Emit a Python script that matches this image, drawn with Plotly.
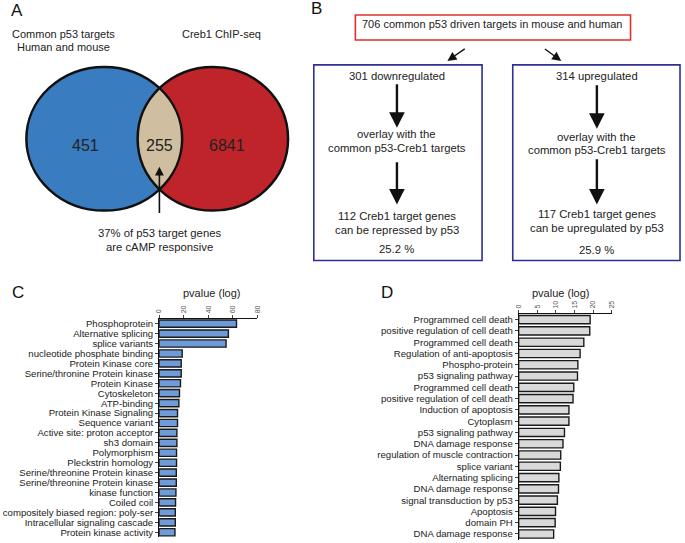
import numpy as np
import plotly.graph_objects as go

W, H = 685, 543
FONT = "Liberation Sans, Arial, sans-serif"

# ---------------- data ----------------
c_terms = ["Phosphoprotein", "Alternative splicing", "splice variants",
           "nucleotide phosphate binding", "Protein Kinase core",
           "Serine/thronine Protein kinase", "Protein Kinase", "Cytoskeleton",
           "ATP-binding", "Protein Kinase Signaling", "Sequence variant",
           "Active site: proton acceptor", "sh3 domain", "Polymorphism",
           "Pleckstrin homology", "Serine/threonine Protein kinase",
           "Serine/threonine Protein kinase", "kinase function", "Coiled coil",
           "compositely biased region: poly-ser", "Intracellular signaling cascade",
           "Protein kinase activity"]
c_values = [63.0, 56.4, 54.5, 18.8, 18.0, 18.0, 17.4, 16.6, 16.1, 15.0, 15.0,
            14.5, 14.5, 14.2, 14.2, 14.0, 14.0, 13.7, 13.4, 13.2, 13.2, 12.9]
c_ticks = [0, 20, 40, 60, 80]

d_terms = ["Programmed cell death", "positive regulation of cell death",
           "Programmed cell death", "Regulation of anti-apoptosis",
           "Phospho-protein", "p53 signaling pathway", "Programmed cell death",
           "positive regulation of cell death", "Induction of apoptosis",
           "Cytoplasm", "p53 signaling pathway", "DNA damage response",
           "regulation of muscle contraction", "splice variant",
           "Alternating splicing", "DNA damage response",
           "signal transduction by p53", "Apoptosis", "domain PH",
           "DNA damage response"]
d_values = [19.2, 19.1, 17.5, 16.5, 15.9, 15.8, 14.8, 14.6, 13.5, 13.5, 12.3,
            11.9, 11.3, 11.2, 10.8, 10.7, 10.4, 9.9, 9.8, 9.4]
d_ticks = [0, 5, 10, 15, 20, 25]

venn_labels = ["451", "255", "6841"]

# --------------- figure ----------------
fig = go.Figure()

nC = len(c_terms)
nD = len(d_terms)

fig.add_trace(go.Bar(
    x=c_values, y=list(range(nC)), orientation="h", width=0.73,
    marker=dict(color="#6f9bd8", line=dict(color="#1a1a1a", width=1.4)),
    xaxis="x", yaxis="y", showlegend=False, hoverinfo="skip"))
fig.add_trace(go.Bar(
    x=d_values, y=list(range(nD)), orientation="h", width=0.73,
    marker=dict(color="#d9d9d9", line=dict(color="#1a1a1a", width=1.4)),
    xaxis="x2", yaxis="y2", showlegend=False, hoverinfo="skip"))
# invisible trace to establish a full-page pixel axis
fig.add_trace(go.Scatter(x=[None], y=[None], xaxis="x3", yaxis="y3",
                         showlegend=False, hoverinfo="skip"))


def px_x(x):
    return x / W


def px_y(y):
    return 1 - y / H


tick_font = dict(family=FONT, size=7, color="#555")
lab_font = dict(family=FONT, size=9.6, color="#222")

c_top, c_band = 318.3, 9.95
d_top, d_band = 313.6, 11.3

fig.update_layout(
    xaxis=dict(domain=[px_x(156.7), px_x(256)], range=[0, 80], side="top",
               tickvals=c_ticks, ticks="outside", ticklen=3, tickangle=-90,
               tickfont=tick_font, showline=True, linecolor="#111", linewidth=1,
               showgrid=False, zeroline=False, anchor="y", fixedrange=True),
    yaxis=dict(domain=[px_y(c_top + c_band * nC), px_y(c_top)],
               range=[nC - 0.5, -0.5], tickvals=list(range(nC)), ticktext=c_terms,
               ticks="outside", ticklen=3, tickfont=lab_font, showline=True,
               linecolor="#111", linewidth=1, showgrid=False, zeroline=False,
               anchor="x", fixedrange=True),
    xaxis2=dict(domain=[px_x(520), px_x(614)], range=[0, 25], side="top",
                tickvals=d_ticks, ticks="outside", ticklen=3, tickangle=-90,
                tickfont=tick_font, showline=True, linecolor="#111", linewidth=1,
                showgrid=False, zeroline=False, anchor="y2", fixedrange=True),
    yaxis2=dict(domain=[px_y(d_top + d_band * nD), px_y(d_top)],
                range=[nD - 0.5, -0.5], tickvals=list(range(nD)), ticktext=d_terms,
                ticks="outside", ticklen=3, tickfont=lab_font, showline=True,
                linecolor="#111", linewidth=1, showgrid=False, zeroline=False,
                anchor="x2", fixedrange=True),
    xaxis3=dict(domain=[0, 1], range=[0, W], visible=False, anchor="y3",
                fixedrange=True),
    yaxis3=dict(domain=[0, 1], range=[H, 0], visible=False, anchor="x3",
                fixedrange=True),
)

shapes = []
ann = []

# ---------- Panel A: Venn ----------
L = dict(cx=101.3, cy=138.0, rx=78.7, ry=72.0)
R = dict(cx=211.0, cy=138.0, rx=76.0, ry=72.0)


def inside(e, x, y):
    return ((x - e["cx"]) / e["rx"]) ** 2 + ((y - e["cy"]) / e["ry"]) ** 2 <= 1.0


t = np.linspace(-np.pi, np.pi, 2001)
Lx = L["cx"] + L["rx"] * np.cos(t)
Ly = L["cy"] + L["ry"] * np.sin(t)
mL = inside(R, Lx, Ly)
t2 = np.linspace(0, 2 * np.pi, 2001)
Rx = R["cx"] + R["rx"] * np.cos(t2)
Ry = R["cy"] + R["ry"] * np.sin(t2)
mR = inside(L, Rx, Ry)
pts = list(zip(Lx[mL], Ly[mL])) + list(zip(Rx[mR], Ry[mR]))
path = "M " + " L ".join(f"{x:.2f},{y:.2f}" for x, y in pts) + " Z"

for e, col in [(L, "#3a7cc0"), (R, "#c0242b")]:
    shapes.append(dict(type="circle", xref="x3", yref="y3",
                       x0=e["cx"] - e["rx"], x1=e["cx"] + e["rx"],
                       y0=e["cy"] - e["ry"], y1=e["cy"] + e["ry"],
                       fillcolor=col, line=dict(width=0), layer="above"))
shapes.append(dict(type="path", xref="x3", yref="y3", path=path,
                   fillcolor="#cfbe9f", line=dict(width=0), layer="above"))
for e in [L, R]:
    shapes.append(dict(type="circle", xref="x3", yref="y3",
                       x0=e["cx"] - e["rx"], x1=e["cx"] + e["rx"],
                       y0=e["cy"] - e["ry"], y1=e["cy"] + e["ry"],
                       fillcolor="rgba(0,0,0,0)", line=dict(color="#111", width=2.5),
                       layer="above"))


def text(x, y, s, size=10, color="#222", xanchor="center"):
    ann.append(dict(x=x, y=y, xref="x3", yref="y3", text=s, showarrow=False,
                    xanchor=xanchor, yanchor="middle",
                    font=dict(family=FONT, size=size, color=color)))


def arrow(x, y, ax, ay, width=1.5, size=1.0, head=2):
    ann.append(dict(x=x, y=y, ax=ax, ay=ay, xref="x3", yref="y3", axref="x3",
                    ayref="y3", text="", showarrow=True, arrowhead=head,
                    arrowsize=size, arrowwidth=width, arrowcolor="#111",
                    standoff=0, startstandoff=0))


text(13, 10, "A", size=17, color="#111")
text(60, 33, "Common p53 targets", size=11)
text(60, 46, "Human and mouse", size=11)
text(220, 33, "Creb1 ChIP-seq", size=11)
text(82, 145, venn_labels[0], size=16, color="#222")
text(157, 145, venn_labels[1], size=16, color="#222")
text(225, 145, venn_labels[2], size=16, color="#222")
arrow(157, 166, 157, 214, width=1.6, size=1.1)
text(157, 232, "37% of p53 target genes", size=11.3)
text(157, 246, "are cAMP responsive", size=11.3)

# ---------- Panel B: flow ----------
BS = 11.3
text(316, 8, "B", size=17, color="#111")
shapes.append(dict(type="rect", xref="x3", yref="y3", x0=355, x1=633, y0=14, y1=39,
                   line=dict(color="#e0302c", width=1.6), fillcolor="rgba(0,0,0,0)"))
text(494, 23, "706 common p53 driven targets in mouse and human", size=11)
arrow(448, 60, 467, 47, width=1.4, size=1.3)
arrow(563, 60, 545, 47, width=1.4, size=1.3)
for x0, x1 in [(313, 483), (514, 683)]:
    shapes.append(dict(type="rect", xref="x3", yref="y3", x0=x0, x1=x1, y0=64, y1=260,
                       line=dict(color="#2e2f91", width=1.6),
                       fillcolor="rgba(0,0,0,0)"))

text(397, 75, "301 downregulated", size=BS)
arrow(397, 127, 397, 82, width=2.4, size=1.3)
text(397, 133, "overlay with the", size=BS)
text(397, 147, "common p53-Creb1 targets", size=BS)
arrow(397, 204, 397, 160, width=2.4, size=1.3)
text(397, 215, "112 Creb1 target genes", size=BS)
text(397, 229, "can be repressed by p53", size=BS)
text(397, 248, "25.2 %", size=BS)

text(599, 75, "314 upregulated", size=BS)
arrow(599, 128, 599, 83, width=2.4, size=1.3)
text(599, 136, "overlay with the", size=BS)
text(599, 149, "common p53-Creb1 targets", size=BS)
arrow(599, 204, 599, 157, width=2.4, size=1.3)
text(599, 213, "117 Creb1 target genes", size=BS)
text(599, 227, "can be upregulated by p53", size=BS)
text(599, 249, "25.9 %", size=BS)

# ---------- Panel C / D labels ----------
text(14, 292, "C", size=17, color="#111")
text(210, 293, "pvalue (log)", size=11)
text(387, 292, "D", size=17, color="#111")
text(562, 293, "pvalue (log)", size=11)

fig.update_layout(
    width=W, height=H, margin=dict(l=0, r=0, t=0, b=0),
    paper_bgcolor="white", plot_bgcolor="rgba(0,0,0,0)",
    shapes=shapes, annotations=ann, showlegend=False,
    font=dict(family=FONT, size=10, color="#222"),
    bargap=0, hovermode=False,
)

fig.write_html(
    "out.html",
    config={"displayModeBar": False, "staticPlot": True},
    post_script="document.documentElement.style.margin='0';"
                "document.body.style.margin='0';"
                "document.body.style.overflow='hidden';",
)
